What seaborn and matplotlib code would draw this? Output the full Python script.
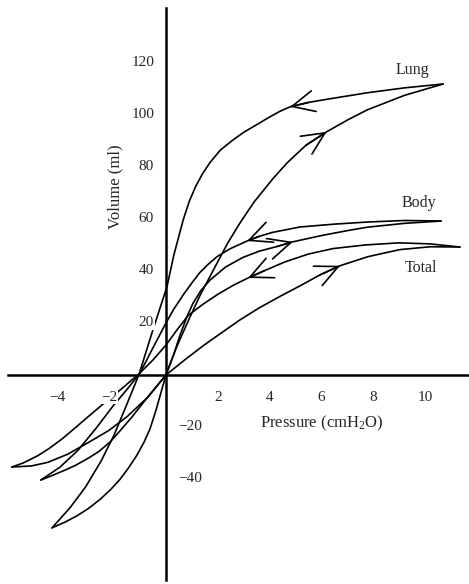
import matplotlib
matplotlib.use("Agg")
import matplotlib.pyplot as plt
from matplotlib.patches import ArrowStyle
import pandas as pd
import seaborn as sns

# Pressure (cmH2O) / volume (ml) loops, each traced as an inflation and a deflation branch
lung_infl_p = [-4.4, -3.9, -3.44, -3.0, -2.55, -2.15, -1.78, -1.45, -1.12, -0.85, -0.62, -0.4, -0.2,
               0.0, 0.42, 0.89, 1.31, 1.97, 2.4, 2.86, 3.4, 4.13, 4.67, 5.4, 6.2, 7.0, 7.76, 9.2, 10.7]
lung_infl_v = [-58.8, -56.6, -54.2, -51.4, -47.9, -44.2, -40.2, -35.8, -30.8, -25.9, -20.8, -14.0, -7.0,
               0.0, 11.0, 21.5, 30.5, 43.0, 51.0, 58.5, 66.5, 75.5, 81.5, 88.3, 93.5, 98.0, 101.9, 107.5, 111.9]
lung_defl_p = [10.7, 9.2, 7.76, 6.2, 5.5, 4.79, 4.4, 4.0, 3.51, 3.0, 2.59, 2.1, 1.7, 1.4, 1.15, 0.9, 0.66,
               0.3, 0.04, -0.5, -1.05, -1.5, -2.0, -2.5, -3.1, -3.7, -4.4]
lung_defl_v = [111.9, 110.4, 108.5, 106.0, 104.8, 103.1, 101.4, 99.2, 96.3, 93.3, 90.4, 86.5, 81.7, 77.2,
               72.6, 66.8, 59.5, 46.0, 34.0, 17.5, 0.0, -11.0, -23.0, -33.0, -43.0, -51.0, -58.8]

body_infl_p = [-4.83, -4.4, -3.9, -3.5, -3.0, -2.6, -2.16, -1.75, -1.3, -0.89, -0.45, 0.0, 0.3, 0.55,
               0.81, 1.04, 1.35, 1.7, 2.3, 2.97, 3.6, 4.29, 4.9, 6.0, 7.0, 7.76, 9.2, 10.62]
body_infl_v = [-40.4, -38.7, -36.6, -34.8, -32.0, -29.5, -25.8, -21.2, -16.0, -10.8, -5.5, 0.0, 8.0, 15.5,
               22.5, 27.5, 32.5, 36.5, 41.5, 45.2, 47.6, 49.4, 51.2, 53.6, 55.5, 56.8, 58.3, 59.2]
body_defl_p = [10.62, 9.2, 7.76, 6.5, 5.17, 4.1, 3.6, 3.13, 2.47, 1.97, 1.6, 1.3, 1.0, 0.7, 0.3, 0.0,
               -0.5, -1.0, -1.5, -2.05, -2.7, -3.4, -4.1, -4.83]
body_defl_v = [59.2, 59.4, 58.8, 58.0, 56.9, 54.8, 53.3, 51.5, 48.5, 45.5, 42.3, 39.3, 35.4, 31.3, 25.3,
               20.0, 10.5, 0.8, -5.5, -12.0, -20.5, -29.0, -35.5, -40.4]

total_infl_p = [-5.95, -5.2, -4.56, -3.8, -3.0, -2.2, -1.5, -0.73, 0.0, 0.8, 1.5, 2.2, 2.86, 3.6,
                4.4, 5.2, 5.95, 6.72, 7.8, 9.03, 10.2, 11.35]
total_infl_v = [-35.4, -35.0, -33.6, -30.5, -26.0, -21.3, -16.0, -8.8, 0.0, 6.4, 11.7, 16.6, 21.2, 25.8,
                30.2, 34.4, 38.5, 42.0, 45.5, 48.2, 49.3, 49.2]
total_defl_p = [11.35, 10.2, 9.0, 7.7, 6.45, 5.5, 4.6, 3.8, 3.17, 2.6, 2.0, 1.4, 0.85, 0.4, 0.0,
                -0.5, -1.0, -1.7, -2.43, -3.0, -3.5, -4.0, -4.5, -4.94, -5.5, -5.95]
total_defl_v = [49.2, 50.4, 50.8, 50.0, 48.6, 46.5, 43.5, 40.1, 37.3, 34.5, 31.0, 27.0, 22.8, 17.0, 11.5,
                5.8, 0.8, -5.2, -11.2, -16.0, -20.3, -24.5, -28.2, -31.0, -33.8, -35.4]

branches = {
    ("Lung", "inflation"): (lung_infl_p, lung_infl_v),
    ("Lung", "deflation"): (lung_defl_p, lung_defl_v),
    ("Body", "inflation"): (body_infl_p, body_infl_v),
    ("Body", "deflation"): (body_defl_p, body_defl_v),
    ("Total", "inflation"): (total_infl_p, total_infl_v),
    ("Total", "deflation"): (total_defl_p, total_defl_v),
}

# direction arrows: (loop, branch, pressure at the arrow tip)
arrow_marks = [
    ("Lung", "deflation", 4.79),
    ("Lung", "inflation", 6.2),
    ("Body", "deflation", 3.13),
    ("Body", "inflation", 4.9),
    ("Total", "deflation", 3.17),
    ("Total", "inflation", 6.72),
]

x_tick_pos = [-4, -3, -2, -1, 1, 2, 3, 4, 5, 6, 7, 8, 9, 10, 11]
x_label_vals = [-4, -2, 2, 4, 6, 8, 10]
y_tick_pos = [-50, -40, -30, -20, -10, 10, 20, 30, 40, 50, 60, 70, 80, 90, 100, 110, 120]
y_label_vals = [-40, -20, 20, 40, 60, 80, 100, 120]

rows = []
for (loop, branch), (ps, vs) in branches.items():
    for i, (p, v) in enumerate(zip(ps, vs)):
        rows.append({"loop": loop, "branch": branch, "segment": f"{loop}-{branch}",
                     "order": i, "pressure": p, "volume": v})
df = pd.DataFrame(rows)

sns.set_theme(style="white")
plt.rcParams["font.family"] = ["Liberation Serif", "DejaVu Serif"]
plt.rcParams["mathtext.fontset"] = "custom"
plt.rcParams["mathtext.rm"] = "Liberation Serif"
plt.rcParams["mathtext.it"] = "Liberation Serif:italic"

fig = plt.figure(figsize=(4.69, 5.84), dpi=100)
ax = fig.add_axes([0, 0, 1, 1])
ax.set_facecolor("white")

sns.lineplot(data=df, x="pressure", y="volume", units="segment", estimator=None,
             sort=False, color="black", linewidth=1.2, ax=ax, legend=False)
for line in ax.lines:
    line.set_solid_joinstyle("round")
    line.set_solid_capstyle("round")

# arrowheads along the loops
head = ArrowStyle("->", head_length=0.95, head_width=0.45)
for loop, branch, p_tip in arrow_marks:
    ps, vs = branches[(loop, branch)]
    i = ps.index(p_tip)
    ax.annotate("", xy=(ps[i], vs[i]), xytext=(ps[i - 1], vs[i - 1]),
                arrowprops=dict(arrowstyle=head, mutation_scale=17, lw=1.2,
                                color="black", shrinkA=0, shrinkB=0))

ax.set_xlim(-6.41, 11.7)
ax.set_ylim(-80.4, 144.2)
ax.set_xlabel("")
ax.set_ylabel("")

for side in ("top", "right"):
    ax.spines[side].set_visible(False)
ax.spines["left"].set_position(("data", 0))
ax.spines["bottom"].set_position(("data", 0))
ax.spines["left"].set_bounds(-79, 141)
ax.spines["bottom"].set_bounds(-6.1, 11.7)
for side in ("left", "bottom"):
    ax.spines[side].set_linewidth(1.8)
    ax.spines[side].set_color("black")
    ax.spines[side].set_zorder(4)

ax.set_xticks(x_tick_pos)
ax.set_yticks(y_tick_pos)
ax.tick_params(axis="x", direction="inout", length=8, width=1.7, color="black",
               labelbottom=False)
ax.tick_params(axis="y", direction="inout", length=9, width=1.7, color="black",
               labelleft=False)

box = dict(facecolor="white", edgecolor="none", pad=0.6)
for v in x_label_vals:
    xpos = v - 0.2 if v < 0 else v
    ax.text(xpos, -8.5, f"{v}".replace("-", "\u2212"), ha="center", va="center",
            fontsize=11, bbox=box, zorder=6)
for v in y_label_vals:
    if v > 0:
        ax.text(-0.46, v, f"{v}", ha="right", va="center", fontsize=11, bbox=box, zorder=6)
    else:
        ax.text(0.46, v, f"{v}".replace("-", "\u2212"), ha="left", va="center",
                fontsize=11, bbox=box, zorder=6)

ax.text(6.02, -18.8, r"Pressure (cmH$_\mathrm{2}$O)", ha="center", va="center", fontsize=12)
ax.text(-1.97, 72.3, "Volume (ml)", ha="center", va="center", rotation=90, fontsize=12)

ax.text(9.5, 117.3, "Lung", ha="center", va="center", fontsize=11.5)
ax.text(9.77, 66.1, "Body", ha="center", va="center", fontsize=11.5)
ax.text(9.85, 41.1, "Total", ha="center", va="center", fontsize=11.5)

fig.savefig("out.png", dpi=100, facecolor="white")
